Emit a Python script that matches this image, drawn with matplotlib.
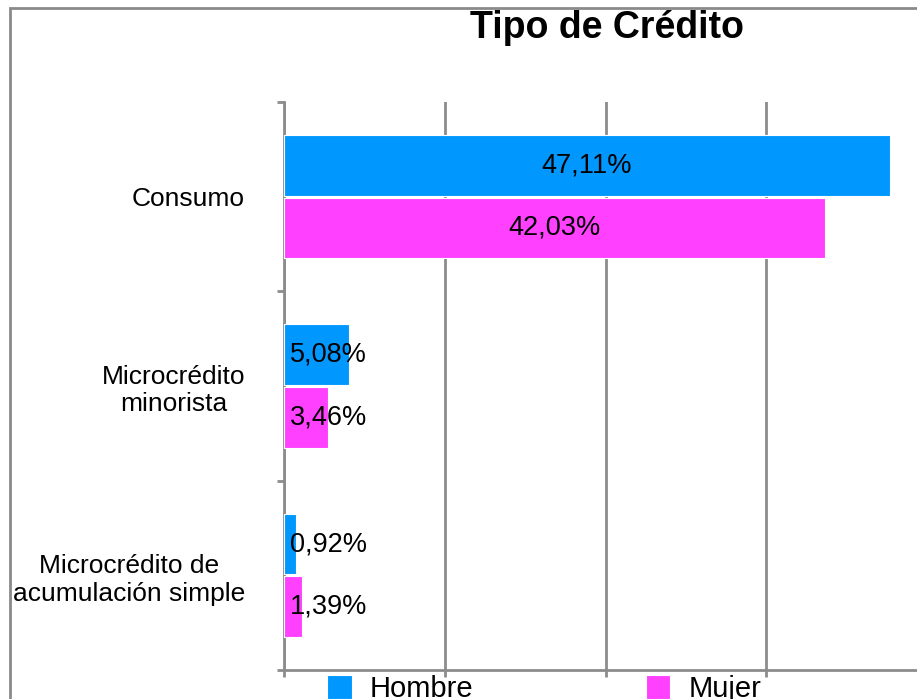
import matplotlib.pyplot as plt
import matplotlib.patches as mpatches
import numpy as np

plt.rcParams['font.family'] = ['Liberation Sans', 'DejaVu Sans']

# datos
categorias = ['Consumo', 'Microcrédito\nminorista', 'Microcrédito de\nacumulación simple']
hombre = [47.11, 5.08, 0.92]
mujer = [42.03, 3.46, 1.39]
series = ['Hombre', 'Mujer']

c_hombre = '#0097ff'
c_mujer = '#ff40ff'
gris = '#8c8c8c'

W, H = 917, 699
fig = plt.figure(figsize=(W / 100, H / 100), dpi=100)

# marco exterior del grafico
marco = mpatches.Rectangle((10 / W, -0.1), 1.2, 1 - 8 / H + 0.1, transform=fig.transFigure,
                           fill=False, edgecolor='#8a8a8a', linewidth=2, zorder=0)
fig.patches.append(marco)

ax = fig.add_axes([284 / W, 1 - 670 / H, (927 - 284) / W, (670 - 102) / H])

y = np.arange(len(categorias))
h = 0.32
off = 0.165
b1 = ax.barh(y - off, hombre, height=h, color=c_hombre, edgecolor='white', linewidth=0.8,
             label=series[0], zorder=3)
b2 = ax.barh(y + off, mujer, height=h, color=c_mujer, edgecolor='white', linewidth=0.8,
             label=series[1], zorder=3)

ax.set_xlim(0, 50)
ax.set_ylim(2.5, -0.5)

# etiquetas de valor
for bars, vals in [(b1, hombre), (b2, mujer)]:
    for bar, v in zip(bars, vals):
        yc = bar.get_y() + bar.get_height() / 2
        txt = '{:.2f}%'.format(v).replace('.', ',')
        if v > 10:
            ax.text(v / 2, yc, txt, ha='center', va='center', fontsize=19.5, zorder=4)
        else:
            ax.annotate(txt, (0, yc), xytext=(4.5, 0), textcoords='offset points',
                        ha='left', va='center', fontsize=19.5, zorder=4)

# ejes y rejilla
ax.set_yticks(y)
ax.set_yticklabels(categorias, fontsize=19, multialignment='center')
ax.set_yticks([-0.5, 0.5, 1.5, 2.5], minor=True)
ax.tick_params(axis='y', which='major', length=0, pad=28)
ax.tick_params(axis='y', which='minor', length=5, width=2, color=gris)
ax.set_xticks([0, 12.5, 25, 37.5, 50])
ax.tick_params(axis='x', length=5, width=2, color=gris, labelbottom=False)
ax.grid(axis='x', color=gris, linewidth=2, zorder=1)
ax.set_axisbelow(True)
for s in ['top', 'right']:
    ax.spines[s].set_visible(False)
for s in ['left', 'bottom']:
    ax.spines[s].set_color(gris)
    ax.spines[s].set_linewidth(2)

fig.text(607 / W, 1 - 28 / H, 'Tipo de Crédito', ha='center', va='center',
         fontsize=27, fontweight='bold')

fig.legend(handles=[b1, b2], labels=series, loc='upper left',
           bbox_to_anchor=(327 / W, 1 - 675 / H), ncol=2, frameon=False,
           fontsize=21, borderpad=0, handlelength=0.85, handleheight=0.85,
           handletextpad=0.62, columnspacing=5.9, borderaxespad=0)

fig.savefig('out.png', dpi=100)
